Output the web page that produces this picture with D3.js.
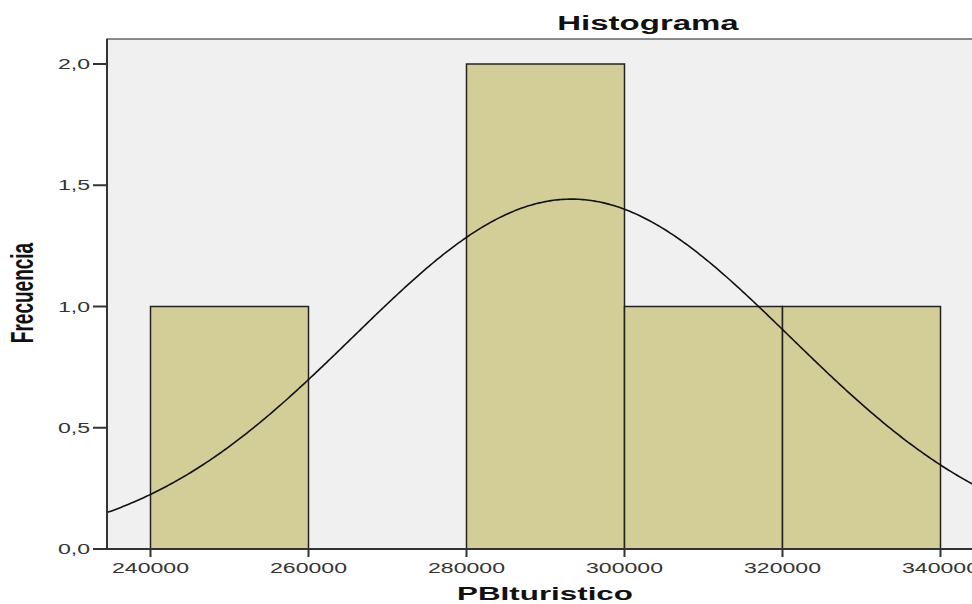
<!DOCTYPE html>
<html>
<head>
<meta charset="utf-8">
<script src="https://cdn.jsdelivr.net/npm/d3@7"></script>
<style>
  body { margin: 0; background: #fff; }
  svg { display: block; }
  text { font-family: "Liberation Sans", Arial, sans-serif; }
</style>
</head>
<body>
<div id="chart"></div>
<script>
// histogram bins (lower edge) and frequencies
const binStarts = [240000, 260000, 280000, 300000, 320000]
const binWidth = 20000
const counts = [1, 0, 2, 1, 1]

// fitted normal curve parameters
const curveMean = 293300
const curveSd = 27650
const curveN = 5

const xTicks = [240000, 260000, 280000, 300000, 320000, 340000]
const yTicks = [0, 0.5, 1, 1.5, 2]

const W = 972, H = 604
const stretch = 1.65   // the source picture is stretched horizontally

const margin = {top: 39, left: 107, bottom: 55}
const plotRight = 1000

const svg = d3.select("#chart")
    .append("svg")
    .attr("width", W)
    .attr("height", H)

const x = d3.scaleLinear()
    .domain([240000, 340000])
    .range([150.5, 940.5])

const y = d3.scaleLinear()
    .domain([0, 2])
    .range([H - margin.bottom, 64])

const x0 = margin.left, y0 = H - margin.bottom

svg.append("defs").append("clipPath")
    .attr("id", "plotClip")
    .append("rect")
    .attr("x", x0).attr("y", margin.top)
    .attr("width", plotRight - x0).attr("height", y0 - margin.top)

// plot background
svg.append("rect")
    .attr("x", x0).attr("y", margin.top)
    .attr("width", plotRight - x0).attr("height", y0 - margin.top)
    .attr("fill", "#f0f0f0")
    .attr("stroke", "#444")
    .attr("stroke-width", 1.2)

// bars
svg.append("g")
    .selectAll("rect")
    .data(binStarts.map((b, i) => ({start: b, count: counts[i]})).filter(d => d.count > 0))
    .enter()
    .append("rect")
    .attr("x", d => x(d.start))
    .attr("y", d => y(d.count))
    .attr("width", d => x(d.start + binWidth) - x(d.start))
    .attr("height", d => y(0) - y(d.count))
    .attr("fill", "#d3ce97")
    .attr("stroke", "#222")
    .attr("stroke-width", 1.5)

// normal curve
const curvePts = d3.range(x.invert(x0), x.invert(plotRight), 250).map(v => {
    const z = (v - curveMean) / curveSd
    return [v, curveN * binWidth / (curveSd * Math.sqrt(2 * Math.PI)) * Math.exp(-0.5 * z * z)]
})
svg.append("path")
    .datum(curvePts)
    .attr("clip-path", "url(#plotClip)")
    .attr("fill", "none")
    .attr("stroke", "#111")
    .attr("stroke-width", 1.6)
    .attr("d", d3.line().x(d => x(d[0])).y(d => y(d[1])))

// axes lines
svg.append("line")
    .attr("x1", x0).attr("x2", x0).attr("y1", margin.top).attr("y2", y0)
    .attr("stroke", "#333").attr("stroke-width", 2)
svg.append("line")
    .attr("x1", x0).attr("x2", plotRight).attr("y1", y0).attr("y2", y0)
    .attr("stroke", "#333").attr("stroke-width", 2)

const fmt = d3.formatLocale({decimal: ",", thousands: ".", grouping: [3], currency: ["", ""]}).format(".1f")

// y ticks
const yT = svg.append("g")
yT.selectAll("line")
    .data(yTicks)
    .enter()
    .append("line")
    .attr("x1", x0 - 14).attr("x2", x0)
    .attr("y1", d => y(d)).attr("y2", d => y(d))
    .attr("stroke", "#333").attr("stroke-width", 2)
yT.selectAll("g")
    .data(yTicks)
    .enter()
    .append("g")
    .attr("transform", d => "translate(" + (x0 - 17) + "," + (y(d) + 5) + ") scale(" + stretch + ",1)")
    .append("text")
    .attr("text-anchor", "end")
    .attr("font-size", 14)
    .attr("fill", "#333")
    .text(d => fmt(d))

// x ticks
const xT = svg.append("g")
xT.selectAll("line")
    .data(xTicks)
    .enter()
    .append("line")
    .attr("x1", d => x(d)).attr("x2", d => x(d))
    .attr("y1", y0).attr("y2", y0 + 8)
    .attr("stroke", "#333").attr("stroke-width", 2)
xT.selectAll("g")
    .data(xTicks)
    .enter()
    .append("g")
    .attr("transform", d => "translate(" + x(d) + "," + (y0 + 24) + ") scale(" + stretch + ",1)")
    .append("text")
    .attr("text-anchor", "middle")
    .attr("font-size", 14)
    .attr("fill", "#333")
    .text(d => d)

// title and axis labels
svg.append("g")
    .attr("transform", "translate(648,30) scale(" + stretch + ",1)")
    .append("text")
    .attr("text-anchor", "middle")
    .attr("font-size", 20)
    .attr("font-weight", "bold")
    .attr("fill", "#111")
    .text("Histograma")

svg.append("g")
    .attr("transform", "translate(545,600) scale(" + stretch + ",1)")
    .append("text")
    .attr("text-anchor", "middle")
    .attr("font-size", 19)
    .attr("font-weight", "bold")
    .attr("fill", "#111")
    .text("PBIturistico")

svg.append("g")
    .attr("transform", "translate(33,293) rotate(-90) scale(1," + stretch + ")")
    .append("text")
    .attr("text-anchor", "middle")
    .attr("font-size", 19)
    .attr("font-weight", "bold")
    .attr("fill", "#111")
    .text("Frecuencia")
</script>
</body>
</html>
